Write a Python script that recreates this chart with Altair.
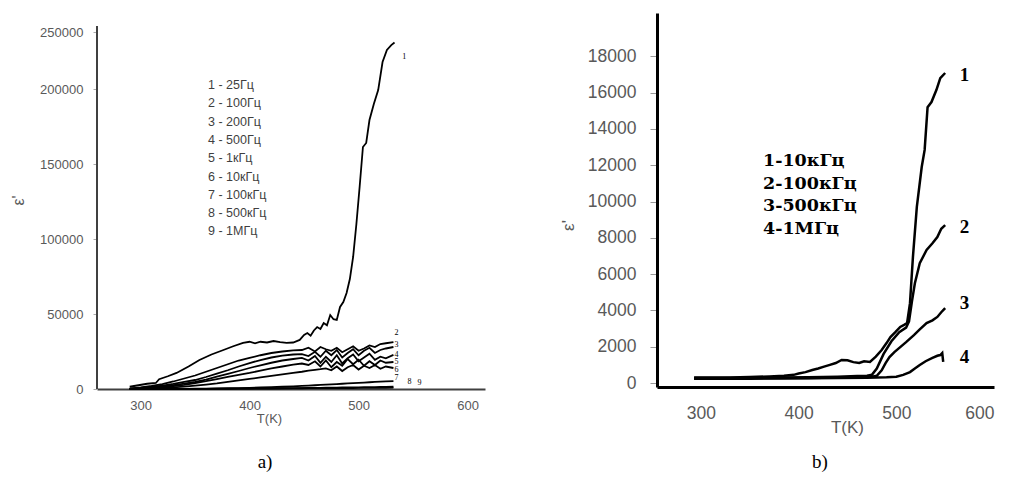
import altair as alt
import pandas as pd

# ---------------- Panel a) ----------------
a_T1 = [290, 298, 306, 314, 317, 325, 333, 344, 354, 365, 376, 385, 394, 400, 405, 410, 416, 422, 428, 434,
        440, 446, 450, 453, 456, 459, 462, 465, 468, 471, 474, 477, 480, 483, 486, 489, 492, 495, 498, 501,
        504, 507, 510, 514, 518, 522, 526, 530, 533]
a_V1 = [1500, 2500, 3500, 4000, 6500, 8500, 10700, 15000, 19300, 23000, 26000, 28500, 30700, 31500, 30500,
        31500, 31000, 32000, 31200, 30700, 31000, 32700, 36000, 37300, 35500, 39000, 41300, 40000, 44000,
        42500, 49300, 46500, 46000, 54700, 58000, 64000, 73300, 88000, 110000, 135000, 161300, 164000,
        179300, 190000, 199300, 218000, 226000, 229300, 231000]

a_Tg = [290, 300, 310, 320, 330, 340, 350, 360, 370, 380, 390, 400, 410, 420, 430, 440, 448, 454, 460, 465,
        470, 475, 480, 485, 490, 495, 500, 505, 510, 515, 520, 525, 532]
a_V2 = [300, 1000, 2000, 3300, 5000, 7000, 9000, 11500, 14000, 16500, 19000, 20700, 22500, 24000, 25000,
        25800, 26000, 27500, 25000, 28000, 26500, 25500, 27500, 24500, 26500, 28500, 25500, 27000, 29000,
        28000, 30000, 30500, 31300]
a_V3 = [200, 700, 1400, 2300, 3400, 4700, 6000, 8000, 10200, 12500, 15000, 17300, 19300, 21000, 22300,
        23000, 23300, 22000, 24800, 21500, 25500, 22500, 26000, 21000, 24000, 26500, 22500, 25500, 27500,
        24000, 26000, 27000, 28000]
a_V4 = [100, 500, 1000, 1700, 2600, 3600, 4700, 6300, 8200, 10100, 12000, 14000, 15800, 17500, 19000,
        20000, 20700, 19000, 22000, 17500, 21500, 18000, 22500, 17000, 20500, 23000, 18500, 21000, 23500,
        19500, 21500, 20500, 22700]
a_V5 = [50, 300, 700, 1200, 1900, 2800, 4000, 5200, 6600, 8100, 9400, 10700, 12200, 13700, 15000, 16200,
        17000, 16000, 18500, 15000, 19000, 14500, 18000, 15500, 20000, 16500, 19500, 15500, 18500, 16000,
        19000, 17500, 18000]
a_V6 = [0, 200, 400, 700, 1100, 1600, 2200, 2900, 3700, 4700, 5700, 6700, 7700, 8700, 9700, 10700, 11500,
        12200, 12800, 13200, 13700, 12500, 15000, 12000, 14500, 16000, 13000, 15500, 14000, 16000, 13500,
        15000, 14000]
a_V7 = [0, 0, 0, 50, 100, 150, 200, 300, 400, 500, 600, 800, 1000, 1200, 1500, 1800, 2100, 2300, 2500,
        2700, 2900, 3100, 3300, 3500, 3700, 3900, 4100, 4300, 4500, 4700, 4900, 5100, 5300]
a_V8 = [0, 0, 0, 0, 0, 50, 100, 150, 200, 250, 300, 350, 400, 450, 500, 600, 650, 700, 750, 800, 850, 900,
        950, 1000, 1050, 1100, 1150, 1200, 1250, 1300, 1350, 1400, 1500]
a_V9 = [0, 0, 0, 0, 0, 0, 0, 50, 100, 150, 200, 250, 300, 350, 400, 450, 500, 520, 540, 560, 580, 600,
        620, 640, 660, 680, 700, 720, 740, 760, 780, 800, 850]

a_legend = ["1 - 25Гц", "2 - 100Гц", "3 - 200Гц", "4 - 500Гц", "5 - 1кГц",
            "6 - 10кГц", "7 - 100кГц", "8 - 500кГц", "9 - 1МГц"]
a_lab_text = ["1", "2", "3", "4", "5", "6", "7", "8", "9"]
a_lab_T = [540, 533, 533, 533, 533, 533, 533, 545, 554]
a_lab_V = [221300, 37300, 29300, 22700, 18000, 12700, 7300, 4700, 4000]

# ---------------- Panel b) ----------------
b_T1 = [293, 310, 330, 350, 370, 385, 395, 400, 407, 414, 420, 426, 432, 438, 444, 450, 456, 462, 467, 473,
        479, 485, 490, 494, 499, 504, 508, 511, 514, 517, 521, 526, 529, 532, 536, 541, 545, 550]
b_V1 = [300, 300, 310, 330, 360, 400, 450, 520, 600, 720, 800, 900, 1000, 1100, 1270, 1250, 1150, 1100,
        1200, 1160, 1450, 1820, 2200, 2530, 2800, 3090, 3200, 3300, 4400, 6940, 9700, 11900, 12840, 15200,
        15480, 16140, 16800, 17080]
b_T2 = [293, 320, 350, 380, 410, 440, 460, 470, 475, 480, 487, 495, 503, 510, 513, 516, 519, 524, 531, 537,
        542, 546, 550]
b_V2 = [280, 280, 290, 300, 320, 350, 380, 400, 450, 800, 1600, 2300, 2800, 3050, 3400, 4500, 5500, 6600,
        7330, 7700, 8040, 8500, 8700]
b_T3 = [293, 320, 350, 380, 410, 440, 460, 475, 480, 485, 489, 493, 498, 504, 510, 518, 524, 531, 537, 542,
        546, 550]
b_V3 = [250, 250, 260, 270, 280, 300, 320, 350, 400, 700, 1100, 1430, 1700, 1980, 2250, 2640, 2950, 3300,
        3450, 3640, 3900, 4130]
b_T4 = [293, 320, 350, 380, 410, 440, 470, 490, 500, 507, 514, 519, 524, 530, 537, 542, 545, 547, 548]
b_V4 = [230, 230, 240, 250, 260, 270, 290, 320, 350, 450, 600, 800, 990, 1200, 1380, 1500, 1540, 1650, 1160]

b_legend = ["1-10кГц", "2-100кГц", "3-500кГц", "4-1МГц"]
b_lab_text = ["1", "2", "3", "4"]
b_lab_T = [565, 565, 565, 565]
b_lab_V = [16970, 8600, 4410, 1430]


def curves(series):
    rows = []
    for name, ts, vs in series:
        for i, (t, v) in enumerate(zip(ts, vs)):
            rows.append({"curve": name, "i": i, "T": t, "V": v})
    return pd.DataFrame(rows)


a_df = curves([("1", a_T1, a_V1), ("2", a_Tg, a_V2), ("3", a_Tg, a_V3), ("4", a_Tg, a_V4),
               ("5", a_Tg, a_V5), ("6", a_Tg, a_V6), ("7", a_Tg, a_V7), ("8", a_Tg, a_V8),
               ("9", a_Tg, a_V9)])
b_df = curves([("1", b_T1, b_V1), ("2", b_T2, b_V2), ("3", b_T3, b_V3), ("4", b_T4, b_V4)])

SANS = "Liberation Sans"
SERIF = "Liberation Serif"
WSERIF = "DejaVu Serif"
GRAY = "#595959"

# ---- left panel
ax = alt.X("T:Q", scale=alt.Scale(domain=[260, 616], nice=False, zero=False),
           axis=alt.Axis(values=[300, 400, 500, 600], format="d", title="T(K)", titleX=172, titleY=29,
                         titleAlign="center", titleBaseline="middle", titleFont=SANS, titleFontSize=13,
                         titleFontWeight="normal", titleColor=GRAY, labelFont=SANS, labelFontSize=13,
                         labelColor=GRAY, labelPadding=10, ticks=False, domainColor="#404040",
                         domainWidth=2, grid=False))
ay = alt.Y("V:Q", scale=alt.Scale(domain=[0, 250667], nice=False),
           axis=alt.Axis(values=[0, 50000, 100000, 150000, 200000, 238000],
                         labelExpr="datum.value == 238000 ? '250000' : format(datum.value, 'd')",
                         title="ε'", titleX=-79, titleY=187, titleAlign="center", titleBaseline="middle",
                         titleFont=SANS, titleFontSize=16, titleFontWeight="normal", titleColor=GRAY,
                         labelFont=SANS, labelFontSize=13, labelColor=GRAY, labelPadding=10,
                         tickSize=4, tickColor="#aaaaaa", domain=False, grid=False))

a_lines = alt.Chart(a_df).mark_line(color="black", strokeWidth=1.8).encode(
    x=ax, y=ay, detail="curve:N", order="i:Q")
a_axis_rule = alt.Chart(pd.DataFrame({"k": [0]})).mark_rule(color="#404040", strokeWidth=2).encode(
    x=alt.datum(260), y=alt.datum(0), y2=alt.datum(242000))
a_labels = alt.Chart(pd.DataFrame({"T": a_lab_T, "V": a_lab_V, "t": a_lab_text})).mark_text(
    font=SERIF, fontSize=8, color="black", align="left", baseline="middle").encode(
    x="T:Q", y="V:Q", text="t:N")
a_leg = alt.Chart(pd.DataFrame({"t": ["\n".join(a_legend)]})).mark_text(
    font=SANS, fontSize=12.5, color="#3f3f3f", align="left", baseline="top", lineBreak="\n",
    lineHeight=18.3).encode(x=alt.value(111), y=alt.value(66), text="t:N")
a_cap = alt.Chart(pd.DataFrame({"t": ["a)"]})).mark_text(
    font=SERIF, fontSize=19, color="black", align="center", baseline="middle").encode(
    x=alt.value(168), y=alt.value(449), text="t:N")
anchor = alt.Chart(pd.DataFrame({"k": [0]})).mark_rule(opacity=0, strokeWidth=1).encode(
    x=alt.value(-89), y=alt.value(0), y2=alt.value(1))

left = alt.layer(a_lines, a_axis_rule, a_labels, a_leg, a_cap, anchor).properties(width=388, height=376)

# ---- right panel
bx = alt.X("T:Q", scale=alt.Scale(domain=[255, 600], nice=False, zero=False),
           axis=alt.Axis(values=[300, 400, 500, 600], format="d", title="T(K)", titleX=190, titleY=40,
                         titleAlign="center", titleBaseline="middle", titleFont=SANS, titleFontSize=17,
                         titleFontWeight="normal", titleColor=GRAY, labelFont=SANS, labelFontSize=17.5,
                         labelColor=GRAY, labelPadding=17, ticks=False, domainColor="black",
                         domainWidth=3, grid=False))
by = alt.Y("V:Q", scale=alt.Scale(domain=[-220, 20386], nice=False, zero=False),
           axis=alt.Axis(values=list(range(0, 18001, 2000)), format="d",
                         title="ε'", titleX=-89, titleY=212, titleAlign="center", titleBaseline="middle",
                         titleFont=SANS, titleFontSize=17, titleFontWeight="normal", titleColor=GRAY,
                         labelFont=SANS, labelFontSize=17.5, labelColor=GRAY, labelPadding=14,
                         tickSize=7, tickColor="#999999", domainColor="black", domainWidth=3, grid=False))

b_lines = alt.Chart(b_df).mark_line(color="black", strokeWidth=2.5).encode(
    x=bx, y=by, detail="curve:N", order="i:Q")
b_labels = alt.Chart(pd.DataFrame({"T": b_lab_T, "V": b_lab_V, "t": b_lab_text})).mark_text(
    font=SERIF, fontSize=19, fontWeight="bold", color="black", align="left", baseline="middle").encode(
    x="T:Q", y="V:Q", text="t:N")
b_leg = alt.Chart(pd.DataFrame({"t": ["\n".join(b_legend)]})).mark_text(
    font=WSERIF, fontSize=17.5, fontWeight="bold", color="black", align="left", baseline="top",
    lineBreak="\n", lineHeight=22.7).encode(x=alt.value(106), y=alt.value(139), text="t:N")
b_cap = alt.Chart(pd.DataFrame({"t": ["b)"]})).mark_text(
    font=SERIF, fontSize=19, color="black", align="center", baseline="middle").encode(
    x=alt.value(163), y=alt.value(449), text="t:N")

right = alt.layer(b_lines, b_labels, b_leg, b_cap).properties(width=337, height=374)

chart = alt.hconcat(left, right, spacing=172, bounds="flush").configure_view(stroke=None).properties(
    padding={"left": 0, "top": 5, "right": 5, "bottom": 5})

chart.save("out.html", embed_options={"renderer": "svg", "actions": False})
